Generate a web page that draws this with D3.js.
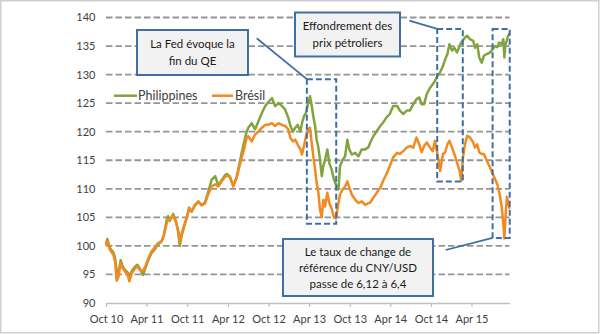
<!DOCTYPE html>
<html><head><meta charset="utf-8">
<script src="https://cdn.jsdelivr.net/npm/d3@7"></script>
<style>body{margin:0;background:#fff}svg{display:block}</style>
</head><body>
<svg id="chart" width="600" height="334"></svg>
<script>
const dates = ["2010-10-01","2010-10-07","2010-10-19","2010-11-03","2010-11-11","2010-11-18","2010-11-26","2010-12-06","2010-12-15","2010-12-25",
"2011-01-05","2011-01-14","2011-01-25","2011-02-09","2011-02-19","2011-03-02","2011-03-16","2011-03-28","2011-04-08","2011-04-23",
"2011-05-08","2011-05-23","2011-06-08","2011-06-18","2011-06-30","2011-07-07","2011-07-15","2011-07-30","2011-08-11","2011-08-21",
"2011-08-29","2011-09-06","2011-09-16","2011-09-28","2011-10-10","2011-10-21","2011-11-05","2011-11-20","2011-12-05","2011-12-20",
"2012-01-04","2012-01-19","2012-02-04","2012-02-18","2012-03-04","2012-03-19","2012-03-29","2012-04-10","2012-04-25","2012-05-10",
"2012-05-22","2012-06-02","2012-06-12","2012-06-24","2012-07-02","2012-07-17","2012-08-01","2012-08-16","2012-09-01","2012-09-16",
"2012-09-30","2012-10-16","2012-10-30","2012-11-15","2012-11-30","2012-12-14","2012-12-29","2013-01-07","2013-01-19","2013-01-29",
"2013-02-09","2013-02-21","2013-02-28","2013-03-09","2013-03-18","2013-03-28","2013-04-05","2013-04-13","2013-04-20","2013-04-28",
"2013-05-05","2013-05-12","2013-05-20","2013-05-28","2013-06-04","2013-06-12","2013-06-22","2013-07-01","2013-07-11","2013-07-22",
"2013-07-31","2013-08-11","2013-08-18","2013-08-30","2013-09-10","2013-09-20","2013-09-29","2013-10-10","2013-10-25","2013-11-09",
"2013-11-24","2013-12-09","2013-12-24","2014-01-01","2014-01-16","2014-02-01","2014-02-15","2014-02-28","2014-03-15","2014-03-30",
"2014-04-14","2014-05-02","2014-05-14","2014-05-29","2014-06-14","2014-06-28","2014-07-13","2014-07-28","2014-08-09","2014-08-20",
"2014-08-31","2014-09-12","2014-09-27","2014-10-09","2014-10-19","2014-10-30","2014-11-11","2014-11-24","2014-12-04","2014-12-14",
"2014-12-23","2015-01-04","2015-01-14","2015-01-26","2015-02-07","2015-02-14","2015-02-22","2015-03-03","2015-03-13","2015-03-25",
"2015-04-09","2015-04-17","2015-04-27","2015-05-06","2015-05-17","2015-05-27","2015-06-09","2015-06-24","2015-07-06","2015-07-16",
"2015-07-26","2015-08-04","2015-08-15","2015-08-22","2015-08-27","2015-09-01","2015-09-07","2015-09-13","2015-09-19"];

const philippines = [100.3,101.2,99.6,98.9,97.8,95.6,95.3,97.5,96.4,95.8,
95.4,94.8,95.6,96.4,96.7,96.0,94.9,96.2,97.4,98.7,
99.4,100.3,100.8,101.8,104.4,105.2,104.4,105.6,104.4,102.6,
100.0,101.8,103.2,104.8,106.7,106.0,107.1,107.8,107.1,107.6,
109.5,111.6,112.2,110.6,111.5,112.4,112.6,112.0,110.6,112.0,
114.2,116.3,118.0,120.0,120.7,121.5,120.4,121.8,123.3,124.5,
125.2,125.9,124.5,125.0,124.5,123.9,122.4,121.0,120.0,120.7,
121.2,120.0,121.5,122.7,123.3,125.0,126.2,124.5,122.7,121.0,
118.6,117.4,115.1,112.2,114.0,115.1,116.9,114.5,113.4,111.6,
110.7,109.9,114.0,115.1,115.7,118.6,116.9,116.0,116.3,115.7,
116.9,116.9,117.3,118.1,119.3,120.2,121.0,121.6,122.5,123.1,
124.5,124.5,123.7,123.1,123.7,123.7,124.8,125.7,126.0,124.8,
124.8,126.6,127.7,128.3,128.9,129.8,130.4,131.5,132.7,133.6,
135.3,134.2,134.7,133.9,135.0,135.6,136.0,136.5,136.8,136.2,
135.9,134.7,135.3,133.0,132.1,133.3,133.6,133.9,134.5,135.0,
134.8,135.6,135.3,136.2,133.0,135.3,136.0,136.8,137.2];

const bresil = [100.0,100.8,99.3,98.5,97.2,93.9,94.6,97.0,96.1,95.5,
95.1,93.8,95.2,96.1,96.4,95.8,95.6,96.5,97.7,99.0,
99.7,100.5,100.8,101.9,103.8,104.7,104.6,105.3,104.2,102.8,
100.6,102.2,103.4,104.9,106.5,106.0,107.2,107.7,107.2,107.4,
109.1,110.4,110.8,110.4,111.3,112.1,112.3,112.2,110.4,111.9,
113.8,115.5,116.8,118.9,119.2,118.3,119.5,120.0,120.7,121.2,
121.2,121.5,121.0,121.5,121.2,121.0,120.4,118.9,118.3,118.6,
117.7,116.9,116.0,117.5,119.2,120.4,120.7,118.0,115.7,113.4,
111.0,109.6,106.4,105.0,108.1,106.9,109.3,107.5,106.6,105.0,
104.8,107.5,109.0,109.9,110.4,111.3,110.2,109.0,108.1,107.5,
107.8,107.2,107.5,107.6,108.5,109.4,110.2,111.4,112.6,114.0,
115.5,116.3,116.1,116.6,117.2,117.5,117.2,119.0,117.8,116.4,
117.5,118.1,117.2,116.6,118.4,116.1,113.1,116.1,116.4,117.8,
118.4,117.2,116.1,114.6,113.1,111.4,115.5,117.8,119.3,119.0,
118.1,117.2,117.8,116.4,116.1,116.1,114.9,113.7,112.6,111.7,
110.8,109.4,106.8,104.0,101.3,105.0,108.6,107.7,106.5];

const seriesNames = ["Philippines", "Brésil"];
const yTicks = [90,95,100,105,110,115,120,125,130,135,140];
const xTickDates = ["2010-10-01","2011-04-01","2011-10-01","2012-04-01","2012-10-01","2013-04-01","2013-10-01","2014-04-01","2014-10-01","2015-04-01"];
const xTickLabels = ["Oct 10","Apr 11","Oct 11","Apr 12","Oct 12","Apr 13","Oct 13","Apr 14","Oct 14","Apr 15"];

// highlighted periods (dashed boxes): start date, end date, top value, bottom value
const boxStart = ["2013-03-22","2014-10-29","2015-07-05"];
const boxEnd   = ["2013-08-01","2015-02-21","2015-09-20"];
const boxTop   = [129.2,138.0,138.0];
const boxBottom= [103.9,111.3,101.4];

const callouts = [
  {lines:["La Fed évoque la","fin du QE"], x:137, y:30, w:111, h:45, lead:[256.7,38.3], box:0, corner:"top"},
  {lines:["Effondrement des","prix pétroliers"], x:295, y:12.5, w:105, h:44, lead:[409.3,20.7], box:1, corner:"top"},
  {lines:["Le taux de change de","référence du CNY/USD","passe de 6,12 à 6,4"], x:283, y:239, w:150, h:57, lead:[445.7,250], box:2, corner:"bottom"}
];

const parse = d3.timeParse("%Y-%m-%d");
const data = dates.map((d,i)=>({date:parse(d), ph:philippines[i], br:bresil[i]}));

const svg = d3.select("#chart");
const W=600,H=334;
svg.append("rect").attr("x",0.75).attr("y",0.75).attr("width",W-2).attr("height",H-2)
  .attr("fill","#fff").attr("stroke","#cfcfcf").attr("stroke-width",1.5);

const x = d3.scaleTime().domain(d3.extent(data,d=>d.date)).range([106,509.5]);
const y = d3.scaleLinear().domain([90,140]).range([303,17.5]);

const font = "Lato, 'Open Sans', sans-serif";

// gridlines
svg.append("g").selectAll("line").data(yTicks.filter(v=>v>90)).join("line")
  .attr("x1",106).attr("x2",509.5).attr("y1",d=>y(d)).attr("y2",d=>y(d))
  .attr("stroke","#959595").attr("stroke-width",1.8).attr("stroke-dasharray","6.5,3");

// y labels
svg.append("g").selectAll("text").data(yTicks).join("text")
  .attr("x",95.5).attr("y",d=>y(d)).attr("dy","0.36em").attr("text-anchor","end")
  .attr("font-family",font).attr("font-size",11).attr("fill","#404040").text(d=>d);

// x axis
const xAxis = d3.axisBottom(x).tickValues(xTickDates.map(parse)).tickSize(4).tickSizeOuter(0)
  .tickFormat((d,i)=>xTickLabels[i]);
const gx = svg.append("g").attr("transform",`translate(0,${y(90)})`).call(xAxis);
gx.select(".domain").attr("stroke","#bfbfbf").attr("stroke-width",1.5);
gx.selectAll(".tick line").attr("stroke","#bfbfbf").attr("stroke-width",1.2);
gx.selectAll(".tick text").attr("font-family",font).attr("font-size",11).attr("fill","#404040").attr("y",12);

// lines
const colors = {ph:"#82a43f", br:"#f28a1f"};
const lineGen = key => d3.line().x(d=>x(d.date)).y(d=>y(d[key])).curve(d3.curveLinear);
svg.append("path").datum(data).attr("d",lineGen("ph")).attr("fill","none")
  .attr("stroke",colors.ph).attr("stroke-width",2.5).attr("stroke-linejoin","round");
svg.append("path").datum(data).attr("d",lineGen("br")).attr("fill","none")
  .attr("stroke",colors.br).attr("stroke-width",2.5).attr("stroke-linejoin","round");

// legend
const leg = svg.append("g");
[[114,137,138,"ph"],[212,233,235,"br"]].forEach((l,i)=>{
  leg.append("line").attr("x1",l[0]).attr("x2",l[1]).attr("y1",95.7).attr("y2",95.7)
    .attr("stroke",colors[l[3]]).attr("stroke-width",2.5);
  leg.append("text").attr("x",l[2]).attr("y",95.7).attr("dy","0.36em")
    .attr("font-family",font).attr("font-size",12.5).attr("fill","#404040").text(seriesNames[i]);
});

// dashed boxes
const blue = "#3f6fa3";
const boxes = boxStart.map((s,i)=>({x0:x(parse(s)), x1:Math.min(x(parse(boxEnd[i])),510), y0:y(boxTop[i]), y1:y(boxBottom[i])}));
svg.append("g").selectAll("rect").data(boxes).join("rect")
  .attr("x",d=>d.x0).attr("y",d=>d.y0).attr("width",d=>d.x1-d.x0).attr("height",d=>d.y1-d.y0)
  .attr("fill","none").attr("stroke",blue).attr("stroke-width",2).attr("stroke-dasharray","6,3");

// callouts
callouts.forEach(c=>{
  const b = boxes[c.box];
  const tx = b.x0, ty = c.corner==="top" ? b.y0 : b.y1;
  svg.append("line").attr("x1",c.lead[0]).attr("y1",c.lead[1]).attr("x2",tx).attr("y2",ty)
    .attr("stroke",blue).attr("stroke-width",1.8);
  svg.append("rect").attr("x",c.x).attr("y",c.y).attr("width",c.w).attr("height",c.h)
    .attr("fill","#f2f2f2").attr("stroke",blue).attr("stroke-width",2);
  const n = c.lines.length, lh = n===2?16.6:16;
  c.lines.forEach((t,i)=>{
    svg.append("text").attr("x",c.x+c.w/2).attr("y",c.y+c.h/2+(i-(n-1)/2)*lh).attr("dy","0.36em")
      .attr("text-anchor","middle").attr("font-family",font).attr("font-size",11.5).attr("fill","#1a1a1a").text(t);
  });
});
</script>
</body></html>
